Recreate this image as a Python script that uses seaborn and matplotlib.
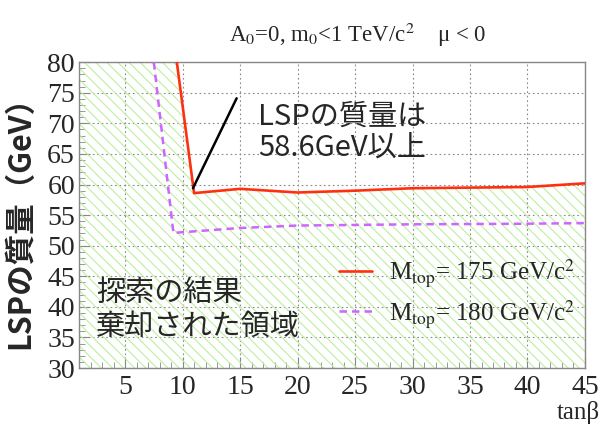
import numpy as np
import pandas as pd
import matplotlib
matplotlib.use("Agg")
import matplotlib.pyplot as plt
import seaborn as sns
from matplotlib.ticker import MultipleLocator

# ---- data ----
tanb_175 = [9.5, 11.0, 15.0, 20.0, 25.0, 30.0, 40.0, 45.0]
lsp_175 = [80.0, 58.6, 59.3, 58.7, 59.0, 59.4, 59.6, 60.2]
tanb_180 = [7.5, 9.2, 15.0, 20.0, 25.0, 30.0, 40.0, 45.0]
lsp_180 = [80.0, 52.1, 52.9, 53.3, 53.4, 53.5, 53.6, 53.7]
x_ticks = [5, 10, 15, 20, 25, 30, 35, 40, 45]
y_ticks = [30, 35, 40, 45, 50, 55, 60, 65, 70, 75, 80]
label_175 = r"M$_{\rm top}$= 175 GeV/c$^2$"
label_180 = r"M$_{\rm top}$= 180 GeV/c$^2$"

df175 = pd.DataFrame({"tanb": tanb_175, "lsp": lsp_175})
df180 = pd.DataFrame({"tanb": tanb_180, "lsp": lsp_180})

sns.set_theme(style="white")
plt.rcParams["font.family"] = ["Liberation Serif", "DejaVu Serif"]
plt.rcParams["font.serif"] = ["Liberation Serif", "DejaVu Serif"]
plt.rcParams["mathtext.fontset"] = "stix"
plt.rcParams["hatch.linewidth"] = 0.8

SERIF = ["Liberation Serif", "DejaVu Serif"]
CJK = ["Noto Sans CJK JP", "DejaVu Sans"]

fig = plt.figure(figsize=(6.04, 4.29), dpi=100)
ax = fig.add_axes([0.131, 0.142, 0.8375, 0.713])

# hatched excluded region: below the 175 curve, full height to its left
xfill = [1.0] + tanb_175
yfill = [80.0] + lsp_175
ax.fill_between(xfill, 30, yfill, facecolor="none", edgecolor="#bdeea0",
                hatch="\\\\\\", linewidth=0, zorder=1)

sns.lineplot(data=df175, x="tanb", y="lsp", ax=ax, color="#ff3010", lw=1.9,
             label=label_175, sort=False, zorder=3)
sns.lineplot(data=df180, x="tanb", y="lsp", ax=ax, color="#cc66ff", lw=1.8,
             linestyle=(0, (3, 2)), label=label_180, sort=False, zorder=3)

ax.set_xlim(1, 45)
ax.set_ylim(30, 80)
ax.set_xticks(x_ticks)
ax.set_yticks(y_ticks)
ax.xaxis.set_minor_locator(MultipleLocator(1))
ax.yaxis.set_minor_locator(MultipleLocator(1))
ax.tick_params(axis="both", which="major", direction="in", length=8, width=0.8,
               color="#888888", pad=5, labelsize=20, labelfontfamily="Liberation Serif")
ax.tick_params(axis="y", which="major", pad=3)
ax.tick_params(axis="both", which="minor", direction="in", length=4, width=0.6,
               color="#888888")
ax.tick_params(axis="x", bottom=True, which="both")
ax.tick_params(axis="y", left=True, which="both")
ax.grid(True, which="major", linestyle=(0, (1.5, 2.5)), color="#888888", lw=0.8)
for s in ax.spines.values():
    s.set_color("#888888")
    s.set_linewidth(1.0)

ax.set_xlabel("")
ax.set_ylabel("LSPの質量（GeV）", family=CJK, fontsize=22, fontweight="bold")
ax.yaxis.set_label_coords(-0.084, 0.5)

fig.text(0.993, 0.012, "tanβ", ha="right", va="bottom", fontsize=18, family=SERIF)
fig.text(0.593, 0.918, r"A$_0$=0, m$_0$<1 TeV/c$^2$    μ < 0", ha="center",
         va="center", fontsize=16.5, family=SERIF)

# annotation
ax.plot([10.9, 14.7], [59.4, 74.1], color="black", lw=1.8, zorder=4)
ax.text(16.6, 68.5, "LSPの質量は\n58.6GeV以上", family=CJK,
        fontsize=21, ha="left", va="center", linespacing=1.1, zorder=5)
ax.text(2.5, 39.5, "探索の結果\n棄却された領域", family=CJK,
        fontsize=21, ha="left", va="center", linespacing=1.15, zorder=5)

leg = ax.legend(loc="center left", bbox_to_anchor=(0.47, 0.245), frameon=False,
                fontsize=18, handlelength=1.3, handletextpad=0.7, labelspacing=0.35)
for t in leg.get_texts():
    t.set_family(SERIF)

fig.savefig("out.png", dpi=100)
